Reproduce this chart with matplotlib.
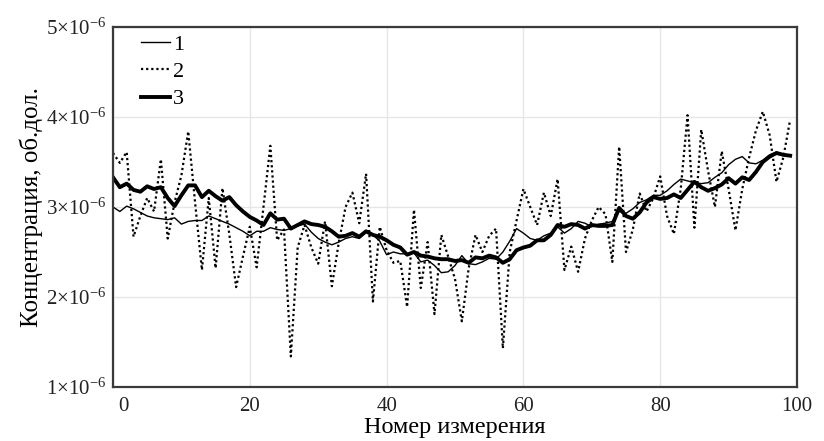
import matplotlib
matplotlib.use("Agg")
import matplotlib.pyplot as plt
import matplotlib.transforms as mtransforms
from matplotlib.ticker import FuncFormatter, MultipleLocator
import numpy as np

plt.rcParams['font.family'] = ['Liberation Serif', 'DejaVu Serif']
plt.rcParams['mathtext.fontset'] = 'custom'
plt.rcParams['mathtext.rm'] = 'Liberation Serif'
plt.rcParams['mathtext.it'] = 'Liberation Serif:italic'

# measurement index
index = list(range(100))

# series values (units of 1e-6)
series1 = [3.00, 2.95, 3.01, 2.98, 2.94, 2.90, 2.88, 2.87, 2.86, 2.88,
           2.81, 2.84, 2.85, 2.85, 2.90, 2.87, 2.84, 2.81, 2.77, 2.73,
           2.68, 2.73, 2.73, 2.77, 2.75, 2.74, 2.76, 2.79, 2.81, 2.72,
           2.65, 2.61, 2.58, 2.61, 2.65, 2.67, 2.65, 2.72, 2.69, 2.62,
           2.47, 2.50, 2.48, 2.48, 2.49, 2.39, 2.41, 2.35, 2.27, 2.28,
           2.35, 2.46, 2.37, 2.36, 2.39, 2.43, 2.42, 2.50, 2.62, 2.76,
           2.71, 2.65, 2.63, 2.68, 2.71, 2.78, 2.71, 2.76, 2.84, 2.82,
           2.78, 2.81, 2.82, 2.84, 2.95, 2.93, 2.98, 3.05, 3.08, 3.13,
           3.13, 3.18, 3.25, 3.31, 3.29, 3.27, 3.26, 3.27, 3.33, 3.38,
           3.47, 3.53, 3.56, 3.49, 3.48, 3.52, 3.58, 3.61, 3.58, 3.57]

series2 = [3.60, 3.49, 3.61, 2.67, 2.90, 3.10, 2.95, 3.53, 2.65, 3.05,
           3.35, 3.84, 3.05, 2.30, 3.10, 2.32, 3.21, 2.70, 2.11, 2.45,
           2.78, 2.33, 3.00, 3.68, 2.63, 2.75, 1.34, 2.55, 2.80, 2.55,
           2.37, 2.84, 2.12, 2.60, 3.00, 3.16, 2.82, 3.37, 1.95, 2.78,
           2.52, 2.38, 2.40, 1.89, 2.97, 2.10, 2.61, 1.81, 2.69, 2.45,
           2.20, 1.73, 2.32, 2.69, 2.50, 2.68, 2.76, 1.43, 2.50, 2.85,
           3.20, 3.00, 2.80, 3.16, 2.90, 3.31, 2.30, 2.56, 2.28, 2.65,
           2.85, 3.00, 2.92, 2.39, 3.67, 2.50, 2.75, 3.15, 2.95, 3.10,
           3.34, 2.90, 2.70, 3.20, 4.02, 2.77, 3.86, 3.40, 3.00, 3.62,
           3.20, 2.74, 3.20, 3.55, 3.85, 4.06, 3.80, 3.28, 3.55, 3.97]

series3 = [3.33, 3.22, 3.26, 3.19, 3.17, 3.23, 3.20, 3.22, 3.10, 3.01,
           3.13, 3.24, 3.24, 3.11, 3.18, 3.12, 3.07, 3.11, 3.02, 2.95,
           2.89, 2.85, 2.80, 2.93, 2.86, 2.87, 2.76, 2.80, 2.84, 2.81,
           2.80, 2.78, 2.73, 2.67, 2.68, 2.71, 2.67, 2.73, 2.69, 2.67,
           2.63, 2.58, 2.55, 2.47, 2.50, 2.46, 2.45, 2.43, 2.42, 2.42,
           2.40, 2.41, 2.38, 2.44, 2.43, 2.46, 2.44, 2.38, 2.42, 2.52,
           2.55, 2.57, 2.63, 2.63, 2.69, 2.80, 2.78, 2.81, 2.80, 2.76,
           2.80, 2.79, 2.79, 2.80, 2.99, 2.90, 2.87, 2.94, 3.05, 3.11,
           3.09, 3.10, 3.14, 3.10, 3.19, 3.28, 3.22, 3.18, 3.21, 3.25,
           3.32, 3.26, 3.33, 3.30, 3.39, 3.50, 3.56, 3.60, 3.58, 3.57]

labels = ["1", "2", "3"]
scale = 1e-6

fig = plt.figure(figsize=(8.24, 4.41), dpi=100)
ax = fig.add_axes([113/824, 1 - 387/441, (797 - 113)/824, (387 - 27)/441])

ax.plot(index, np.array(series1) * scale, color='black', lw=1.0, label=labels[0])
ax.plot(index, np.array(series2) * scale, color='black', lw=1.6,
        linestyle=(0, (1, 1.3)), label=labels[1])
ax.plot(index, np.array(series3) * scale, color='black', lw=2.8, label=labels[2])

ax.set_xlim(0, 100)
ax.set_ylim(1e-6, 5e-6)
ax.xaxis.set_major_locator(MultipleLocator(20))
ax.yaxis.set_major_locator(MultipleLocator(1e-6))

def yfmt(v, pos):
    m = int(round(v / 1e-6))
    return r'$%d{\times}10^{-6}$' % m

ax.yaxis.set_major_formatter(FuncFormatter(yfmt))
ax.xaxis.set_major_formatter(FuncFormatter(lambda v, p: '%d' % round(v)))

ax.grid(True, color='#e6e6e6', lw=1.0)
ax.set_axisbelow(True)
ax.tick_params(length=0, labelsize=15, pad=5, colors='#222222')
ax.tick_params(axis='x', pad=7)
for s in ax.spines.values():
    s.set_color('#3a3a3a')
    s.set_linewidth(1.6)

fig.canvas.draw()
# shift the "0" tick label right, as in the reference
for lab in ax.get_xticklabels():
    if lab.get_text() == '0':
        lab.set_transform(lab.get_transform() + mtransforms.ScaledTranslation(10/100, 0, fig.dpi_scale_trans))

ax.set_xlabel('Номер измерения', fontsize=17.5, labelpad=1)
ax.set_ylabel('Концентрация, об.дол.', fontsize=18, labelpad=2)

leg = ax.legend(loc='upper left', bbox_to_anchor=(0.028, 1.004), frameon=False,
                fontsize=16, handlelength=1.3, handletextpad=0.15,
                labelspacing=0.3, borderaxespad=0)

fig.savefig('out.png', dpi=100)
